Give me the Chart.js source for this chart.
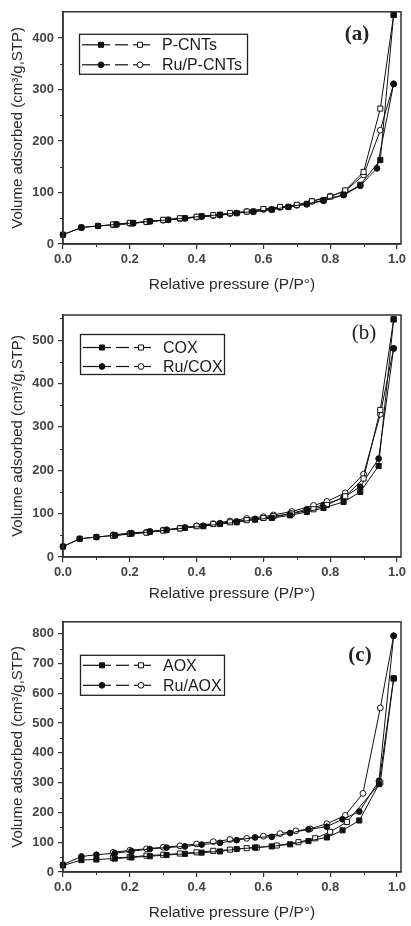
<!DOCTYPE html>
<html><head><meta charset="utf-8">
<script src="https://cdn.jsdelivr.net/npm/chart.js@4.4.1/dist/chart.umd.min.js"></script>
<style>
html,body{margin:0;padding:0;background:#fff;width:411px;height:926px;overflow:hidden;}
canvas{position:absolute;left:0;}
</style></head><body>
<canvas id="cA" width="411" height="300" style="top:0px"></canvas>
<canvas id="cB" width="411" height="310" style="top:300px"></canvas>
<canvas id="cC" width="411" height="316" style="top:610px"></canvas>
<script>
// ---------- data ----------
const xTicks = [0, 0.2, 0.4, 0.6, 0.8, 1.0];
const xMinor = [0.1, 0.3, 0.5, 0.7, 0.9];
const xTitle = 'Relative pressure (P/P\u00B0)';
const yTitle = 'Volume adsorbed (cm\u00B3/g,STP)';

// panel (a)
const labelsA = ['P-CNTs', 'Ru/P-CNTs'];
const adsX_A1 = [0, 0.055, 0.105, 0.16, 0.21, 0.26, 0.315, 0.365, 0.415, 0.47, 0.52, 0.57, 0.625, 0.675, 0.73, 0.78, 0.84, 0.89, 0.95, 0.99];
const adsY_A1 = [18, 32, 35, 38, 41, 44, 47, 50, 54, 57, 60, 63, 67, 72, 78, 85, 96, 115, 163, 445];
const adsX_A2 = [0, 0.055, 0.105, 0.16, 0.21, 0.26, 0.315, 0.365, 0.415, 0.47, 0.52, 0.57, 0.625, 0.675, 0.73, 0.78, 0.84, 0.89, 0.94, 0.99];
const adsY_A2 = [18, 32, 35, 38, 40, 44, 47, 50, 53, 56, 60, 63, 67, 72, 77, 84, 95, 113, 147, 311];
const desX_A = [0.99, 0.95, 0.9, 0.845, 0.8, 0.745, 0.7, 0.65, 0.6, 0.55, 0.5, 0.45, 0.4, 0.35, 0.3, 0.25, 0.2, 0.15];
const desY_A1 = [445, 263, 140, 104, 92, 83, 76, 72, 68, 63, 60, 56, 53, 50, 47, 43, 41, 38];
const desY_A2 = [311, 221, 134, 103, 93, 83, 75, 71, 67, 63, 59, 55, 52, 49, 46, 43, 40, 37];
const yTicksA = [0, 100, 200, 300, 400];
const yMinorA = [50, 150, 250, 350];

// panel (b)
const labelsB = ['COX', 'Ru/COX'];
const adsX_B = [0, 0.05, 0.1, 0.155, 0.205, 0.26, 0.31, 0.365, 0.42, 0.47, 0.52, 0.575, 0.625, 0.68, 0.73, 0.78, 0.84, 0.89, 0.945, 0.99];
const adsY_B1 = [24, 42, 46, 50, 54, 58, 62, 67, 71, 76, 80, 86, 90, 96, 104, 113, 127, 150, 210, 548];
const adsY_B2 = [24, 42, 46, 50, 55, 59, 63, 68, 72, 78, 82, 88, 91, 100, 110, 120, 137, 162, 227, 481];
const desX_B = [0.99, 0.95, 0.9, 0.845, 0.79, 0.75, 0.685, 0.63, 0.6, 0.55, 0.5, 0.45, 0.4, 0.35, 0.3, 0.25, 0.2, 0.15];
const desY_B1 = [548, 339, 181, 140, 120, 110, 100, 94, 90, 85, 80, 76, 71, 66, 61, 56, 53, 49];
const desY_B2 = [481, 329, 191, 148, 128, 119, 105, 97, 93, 89, 83, 77, 72, 66, 62, 57, 55, 51];
const yTicksB = [0, 100, 200, 300, 400, 500];
const yMinorB = [50, 150, 250, 350, 450, 550];

// panel (c)
const labelsC = ['AOX', 'Ru/AOX'];
const adsX_C = [0, 0.055, 0.1, 0.155, 0.205, 0.26, 0.31, 0.365, 0.415, 0.47, 0.52, 0.575, 0.625, 0.68, 0.735, 0.79, 0.837, 0.887, 0.946, 0.99];
const adsY_C1 = [22, 40, 42, 45, 49, 53, 57, 61, 65, 69, 77, 82, 86, 93, 104, 116, 140, 173, 295, 650];
const adsY_C2 = [25, 52, 58, 63, 70, 77, 82, 86, 92, 98, 107, 116, 118, 131, 143, 152, 177, 203, 306, 793];
const desX_C1 = [0.99, 0.95, 0.85, 0.8, 0.755, 0.705, 0.64, 0.58, 0.55, 0.5, 0.45, 0.4, 0.35, 0.3, 0.25, 0.2, 0.15];
const desY_C1 = [650, 300, 168, 135, 113, 100, 89, 82, 80, 75, 71, 66, 62, 58, 55, 50, 47];
const desX_C2 = [0.99, 0.95, 0.898, 0.845, 0.79, 0.74, 0.697, 0.65, 0.6, 0.55, 0.5, 0.45, 0.4, 0.35, 0.3, 0.25, 0.2, 0.15];
const desY_C2 = [793, 551, 264, 190, 162, 145, 138, 129, 120, 113, 109, 102, 94, 88, 83, 78, 73, 66];
const yTicksC = [0, 100, 200, 300, 400, 500, 600, 700, 800];
const yMinorC = [50, 150, 250, 350, 450, 550, 650, 750];

// ---------- rendering ----------
const SANS = '"Liberation Sans", Arial, sans-serif';
const SERIF = '"Liberation Serif", "Times New Roman", serif';
const INK = '#111';
const AXC = '#333';

const pts = (xs, ys) => xs.map((x, i) => ({x: x, y: ys[i]}));
function ds(label, xs, ys, style, filled) {
  return {
    label: label, data: pts(xs, ys), showLine: true, clip: false,
    borderColor: INK, borderWidth: 1,
    pointStyle: style, pointRadius: style === 'rect' ? 3.6 : 2.9,
    pointBorderWidth: 1, pointBorderColor: INK,
    pointBackgroundColor: filled ? INK : '#fff',
    pointHoverRadius: 3
  };
}

function drawMarker(ctx, x, y, shape, filled) {
  ctx.beginPath();
  if (shape === 'rect') ctx.rect(x - 2.5, y - 2.5, 5, 5);
  else ctx.arc(x, y, 2.9, 0, Math.PI * 2);
  ctx.fillStyle = filled ? INK : '#fff';
  ctx.fill();
  ctx.lineWidth = 1; ctx.strokeStyle = INK; ctx.stroke();
}

const decor = {
  id: 'decor',
  afterDraw(chart, args, o) {
    const ctx = chart.ctx, a = chart.chartArea, sx = chart.scales.x, sy = chart.scales.y;
    ctx.save();
    ctx.strokeStyle = AXC; ctx.lineWidth = 1;
    o.xMinor.forEach(v => {
      const px = Math.round(sx.getPixelForValue(v)) + 0.5;
      ctx.beginPath(); ctx.moveTo(px, a.bottom); ctx.lineTo(px, a.bottom + 3); ctx.stroke();
    });
    o.yMinor.forEach(v => {
      const py = Math.round(sy.getPixelForValue(v)) + 0.5;
      ctx.beginPath(); ctx.moveTo(a.left, py); ctx.lineTo(a.left - 3, py); ctx.stroke();
    });
    // frame
    ctx.lineWidth = 1.5; ctx.strokeStyle = AXC;
    ctx.strokeRect(a.left, a.top, a.right - a.left, a.bottom - a.top);
    // panel label
    ctx.fillStyle = '#222';
    ctx.font = (o.labelBold ? 'bold ' : '') + '21px ' + SERIF;
    ctx.textAlign = 'center'; ctx.textBaseline = 'middle';
    ctx.fillText(o.label, o.labelX, a.top + o.labelDY);
    // legend
    const L = o.legend;
    const bx = L.x, by = a.top + L.dy;
    ctx.lineWidth = 1.3; ctx.strokeStyle = '#222';
    ctx.strokeRect(bx + 0.5, by + 0.5, L.w, L.h);
    const shapes = ['rect', 'circle'];
    o.names.forEach((name, i) => {
      const yy = by + L.rows[i];
      ctx.strokeStyle = INK; ctx.lineWidth = 1.2;
      [[3, 31], [36, 49], [54, 71]].forEach(s => {
        ctx.beginPath(); ctx.moveTo(bx + s[0], yy); ctx.lineTo(bx + s[1], yy); ctx.stroke();
      });
      drawMarker(ctx, bx + 22, yy, shapes[i], true);
      drawMarker(ctx, bx + 61, yy, shapes[i], false);
      ctx.fillStyle = '#1a1a1a'; ctx.font = '16px ' + SANS;
      ctx.textAlign = 'left'; ctx.textBaseline = 'middle';
      ctx.fillText(name, bx + 83, yy + 1);
    });
    ctx.restore();
  }
};

function makeChart(id, p) {
  const tickFont = {family: SANS, size: 13, weight: 'bold'};
  const xTitleFont = {family: SANS, size: 15.5};
  const yTitleFont = {family: SANS, size: 15};
  new Chart(document.getElementById(id), {
    type: 'scatter',
    data: {datasets: [
      ds(p.names[0] + ' ads', p.ads1[0], p.ads1[1], 'rect', true),
      ds(p.names[0] + ' des', p.des1[0], p.des1[1], 'rect', false),
      ds(p.names[1] + ' ads', p.ads2[0], p.ads2[1], 'circle', true),
      ds(p.names[1] + ' des', p.des2[0], p.des2[1], 'circle', false)
    ]},
    options: {
      responsive: false, animation: false, events: [],
      devicePixelRatio: 1,
      layout: {padding: {top: p.padTop, right: 10, left: 0, bottom: 0}},
      plugins: {legend: {display: false}, tooltip: {enabled: false}, decor: p.decor},
      scales: {
        x: {
          type: 'linear', min: 0, max: 1.012,
          afterFit: s => { s.height = p.xH; },
          afterBuildTicks: s => { s.ticks = xTicks.map(v => ({value: v})); },
          ticks: {callback: v => v.toFixed(1), font: tickFont, color: '#444', padding: 3, maxRotation: 0, autoSkip: false},
          grid: {drawOnChartArea: false, drawTicks: true, tickLength: 5, color: AXC, tickColor: AXC, lineWidth: 1.2},
          border: {display: true, color: AXC, width: 1.5},
          title: {display: true, text: xTitle, font: xTitleFont, color: '#2a2a2a', padding: {top: 0, bottom: p.xTitlePad}}
        },
        y: {
          type: 'linear', min: 0, max: p.yMax,
          afterFit: s => { s.width = 63; },
          afterBuildTicks: s => { s.ticks = p.yTicks.map(v => ({value: v})); },
          ticks: {font: tickFont, color: '#444', padding: 4, autoSkip: false},
          grid: {drawOnChartArea: false, drawTicks: true, tickLength: 5, color: AXC, tickColor: AXC, lineWidth: 1.2},
          border: {display: true, color: AXC, width: 1.5},
          title: {display: true, text: yTitle, font: yTitleFont, color: '#2a2a2a', padding: {top: 9, bottom: 0}}
        }
      }
    },
    plugins: [decor]
  });
}

makeChart('cA', {
  names: labelsA,
  ads1: [adsX_A1, adsY_A1], des1: [desX_A, desY_A1],
  ads2: [adsX_A2, adsY_A2], des2: [desX_A, desY_A2],
  yTicks: yTicksA, yMax: 451, padTop: 1, xH: 56, xTitlePad: 6,
  decor: {xMinor: xMinor, yMinor: yMinorA, names: labelsA, label: '(a)', labelBold: true, labelX: 357, labelDY: 22.5,
          legend: {x: 79, dy: 22, w: 168, h: 40, rows: [11, 31]}}
});
makeChart('cB', {
  names: labelsB,
  ads1: [adsX_B, adsY_B1], des1: [desX_B, desY_B1],
  ads2: [adsX_B, adsY_B2], des2: [desX_B, desY_B2],
  yTicks: yTicksB, yMax: 558, padTop: 15, xH: 53, xTitlePad: 7,
  decor: {xMinor: xMinor, yMinor: yMinorB, names: labelsB, label: '(b)', labelBold: false, labelX: 364, labelDY: 18,
          legend: {x: 80, dy: 19, w: 144, h: 40, rows: [13.5, 32.5]}}
});
makeChart('cC', {
  names: labelsC,
  ads1: [adsX_C, adsY_C1], des1: [desX_C1, desY_C1],
  ads2: [adsX_C, adsY_C2], des2: [desX_C2, desY_C2],
  yTicks: yTicksC, yMax: 840, padTop: 9, xH: 54, xTitlePad: 4,
  decor: {xMinor: xMinor, yMinor: yMinorC, names: labelsC, label: '(c)', labelBold: true, labelX: 360, labelDY: 33.5,
          legend: {x: 80, dy: 33, w: 144, h: 40, rows: [10.5, 30.5]}}
});
</script>
</body></html>
